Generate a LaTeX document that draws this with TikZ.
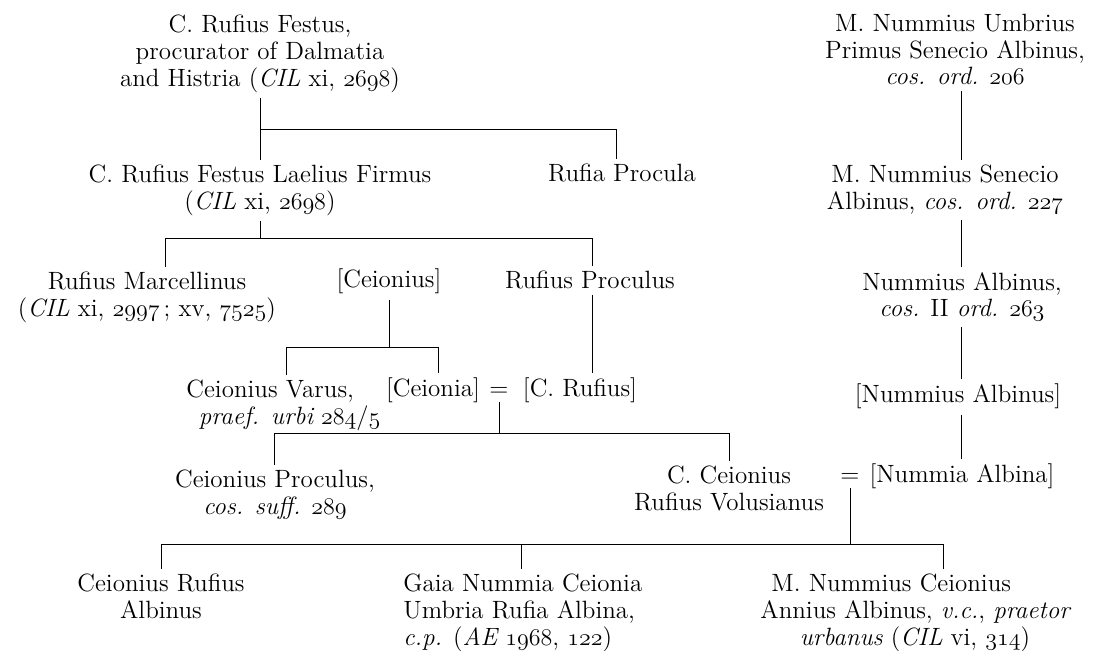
\documentclass[tikz,border=0pt]{standalone}
\usepackage{fontspec}
\usepackage{tikz}

% old-style figures from the math italic font
\newcommand{\osn}[1]{{\fontencoding{OML}\fontfamily{cmm}\fontseries{m}\fontshape{it}\selectfont #1}}
% narrow italic
\newcommand{\itn}[1]{{\itshape\addfontfeature{FakeStretch=0.9}#1}}

\tikzset{
	person/.style={align=center, anchor=north, inner sep=2.5pt, font=\fontsize{12.5}{13.3}\selectfont},
	single/.style={person, anchor=base},
	kin/.style={line width=0.5pt}
}

\begin{document}
\begin{tikzpicture}[x=0.5pt, y=-0.5pt]
				\useasboundingbox (0,0) rectangle (1098,651);

				% left family
				\node[person] (festus) at (260,10) {C. Rufius Festus,\\ procurator of Dalmatia\\ and Histria (\itn{CIL} xi, \osn{2698})};
				\node[person] (firmus) at (260,160) {C. Rufius Festus Laelius Firmus\\ (\itn{CIL} xi, \osn{2698})};
				\node[single] (procula) at (622,182) {Rufia Procula};
				\node[person] (marcellinus) at (147,267) {Rufius Marcellinus\\ (\itn{CIL} xi, \osn{2997}\,; xv, \osn{7525})};
				\node[single] (ceionius) at (389,288) {[Ceionius]};
				\node[single] (rproculus) at (590,289) {Rufius Proculus};
				\node[person, align=left, anchor=north west] (varus) at (181,375) {Ceionius Varus,\\ \hspace*{0.5em}\itn{praef. urbi} \osn{284}/\osn{5}};
				\node[single] (ceionia) at (433,397) {[Ceionia]};
				\node[single] (eqa) at (499,397) {=};
				\node[single] (crufius) at (580,397) {[C. Rufius]};
				\node[person] (cproculus) at (275,465) {Ceionius Proculus,\\ \itn{cos. suff.} \osn{289}};
				\node[person] (volusianus) at (729,461) {C. Ceionius\\ Rufius Volusianus};
				\node[single] (eqb) at (850,483) {=};

				% right family
				\node[person] (umbrius) at (955,9) {M. Nummius Umbrius\\ Primus Senecio Albinus,\\ \itn{cos. ord.} \osn{206}};
				\node[person] (senecio) at (945,160) {M. Nummius Senecio\\ Albinus, \itn{cos. ord.} \osn{227}};
				\node[person] (nalbinus) at (962,267) {Nummius Albinus,\\ \itn{cos.} II \itn{ord.} \osn{263}};
				\node[single] (nalbinusb) at (958,403) {[Nummius Albinus]};
				\node[single] (nummia) at (962,483) {[Nummia Albina]};

				% children
				\node[person] (rufalb) at (161,569) {Ceionius Rufius\\ Albinus};
				\node[person, align=left, anchor=north west] (gaia) at (398,569) {Gaia Nummia Ceionia\\ Umbria Rufia Albina,\\ \itn{c.p.} (\itn{AE} \osn{1968}, \osn{122})};
				\node[person] (annius) at (915,569) {M. Nummius Ceionius\hspace*{1.9em}\\ Annius Albinus, \itn{v.c.}, \itn{praetor}\\ \itn{urbanus} (\itn{CIL} vi, \osn{314})};

				\coordinate (ja) at (260,130);
				\coordinate (jb) at (616,130);
				\coordinate (jc) at (165,239);
				\coordinate (jd) at (592,239);
				\coordinate (je) at (286,348);
				\coordinate (jf) at (438,348);
				\coordinate (jg) at (274,434);
				\coordinate (jh) at (729,434);
				\coordinate (ji) at (161,545);
				\coordinate (jj) at (521,545);
				\coordinate (jk) at (943,545);
				\coordinate (rc) at (961,0);

				\draw[kin] (festus) -- (firmus);
				\draw[kin] (ja) -- (jb) -- (jb |- procula.north);
				\draw[kin] (firmus.south) -- (firmus.south |- jc);
				\draw[kin] (jc |- marcellinus.north) -- (jc) -- (jd) -- (jd |- rproculus.north);
				\draw[kin] (ceionius.south) -- (ceionius.south |- je);
				\draw[kin] (je |- varus.north) -- (je) -- (jf) -- (jf |- ceionia.north);
				\draw[kin] (rproculus.south -| jd) -- (jd |- crufius.north);
				\draw[kin] (eqa.south) -- (eqa.south |- jg);
				\draw[kin] (jg |- cproculus.north) -- (jg) -- (jh) -- (jh |- volusianus.north);
				\draw[kin] (eqb.south) -- (eqb.south |- ji);
				\draw[kin] (ji |- rufalb.north) -- (ji) -- (jk) -- (jk |- annius.north);
				\draw[kin] (jj) -- (jj |- gaia.north);

				\draw[kin] (umbrius.south -| rc) -- (senecio.north -| rc);
				\draw[kin] (senecio.south -| rc) -- (nalbinus.north -| rc);
				\draw[kin] (nalbinus.south -| rc) -- (nalbinusb.north -| rc);
				\draw[kin] (nalbinusb.south -| rc) -- (nummia.north -| rc);
			\end{tikzpicture}
\end{document}
